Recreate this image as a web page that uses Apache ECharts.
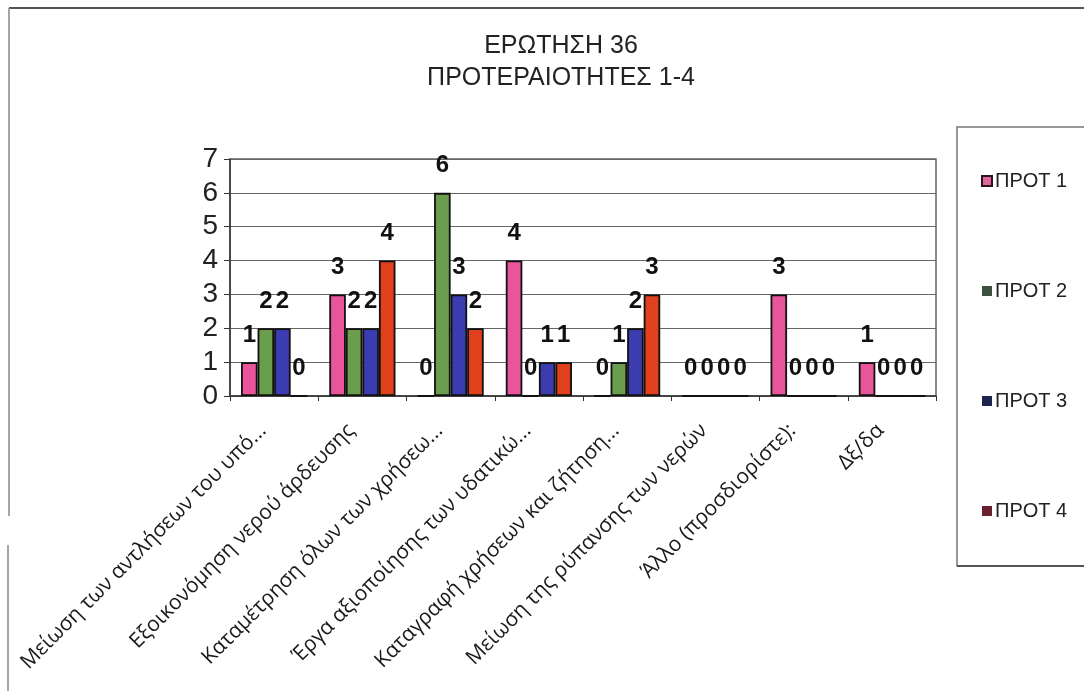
<!DOCTYPE html>
<html>
<head>
<meta charset="utf-8">
<script src="https://cdn.jsdelivr.net/npm/echarts@6/dist/echarts.min.js"></script>
<style>html,body{margin:0;padding:0;background:#fff}#c{width:1084px;height:691px}</style>
</head>
<body>
<div id="c"></div>
<script>
const titleLines = ['ΕΡΩΤΗΣΗ 36', 'ΠΡΟΤΕΡΑΙΟΤΗΤΕΣ 1-4'];
const categories = [
  'Μείωση των αντλήσεων του υπό...',
  'Εξοικονόμηση νερού άρδευσης',
  'Καταμέτρηση όλων των χρήσεω...',
  'Έργα αξιοποίησης των υδατικώ...',
  'Καταγραφή χρήσεων και ζήτηση...',
  'Μείωση της ρύπανσης των νερών',
  'Άλλο (προσδιορίστε):',
  'Δξ/δα'
];
const seriesNames = ['ΠΡΟΤ 1', 'ΠΡΟΤ 2', 'ΠΡΟΤ 3', 'ΠΡΟΤ 4'];
const prot1 = [1, 3, 0, 4, 0, 0, 3, 1];
const prot2 = [2, 2, 6, 0, 1, 0, 0, 0];
const prot3 = [2, 2, 3, 1, 2, 0, 0, 0];
const prot4 = [0, 4, 2, 1, 3, 0, 0, 0];
const yTicks = [0, 1, 2, 3, 4, 5, 6, 7];

const barColors = ['#E8559A', '#6A9E4E', '#3A3CB0', '#E0401C'];
const legendIcon = [
  {color: '#E0669A', borderColor: '#2a1420', borderWidth: 2},
  {color: '#3d4f3d', borderColor: '#3d4f3d', borderWidth: 0},
  {color: '#1f2350', borderColor: '#1f2350', borderWidth: 0},
  {color: '#6b2030', borderColor: '#6b2030', borderWidth: 0}
];
const values = [prot1, prot2, prot3, prot4];

const chart = echarts.init(document.getElementById('c'), null, {renderer: 'canvas'});
chart.setOption({
  backgroundColor: '#ffffff',
  animation: false,
  title: {
    text: titleLines.join('\n'),
    left: 556, top: 25, textAlign: 'center',
    textStyle: {fontFamily: 'Liberation Sans, Arial', fontSize: 25, fontWeight: 'normal', color: '#222', lineHeight: 32}
  },
  legend: {
    orient: 'vertical',
    left: 976, top: 166,
    itemGap: 90,
    itemWidth: 10, itemHeight: 10,
    icon: 'rect',
    textStyle: {fontFamily: 'Liberation Sans, Arial', fontSize: 20, color: '#222', lineHeight: 20, padding: [0,0,0,-2]},
    data: seriesNames.map((n, i) => ({name: n, itemStyle: legendIcon[i]}))
  },
  grid: {
    left: 230, right: 148, top: 159, bottom: 295,
    show: true, borderColor: '#666', borderWidth: 1.5, backgroundColor: 'transparent'
  },
  xAxis: {
    type: 'category',
    data: categories,
    boundaryGap: true,
    axisLine: {lineStyle: {color: '#333', width: 1.5}},
    axisTick: {show: true, length: 5, lineStyle: {color: '#333'}},
    axisLabel: {
      rotate: 45, interval: 0, margin: 20,
      padding: [0, 16, 0, 0],
      fontFamily: 'Open Sans', fontSize: 21, color: '#1a1a1a'
    }
  },
  yAxis: {
    type: 'value',
    min: 0, max: 7, interval: 1,
    axisLine: {show: true, lineStyle: {color: '#333', width: 1.5}},
    axisTick: {show: true, length: 6, lineStyle: {color: '#333'}},
    axisLabel: {fontFamily: 'Liberation Sans, Arial', fontSize: 28, color: '#222', margin: 12},
    splitLine: {show: true, lineStyle: {color: '#666', width: 1.2}}
  },
  series: seriesNames.map((n, i) => ({
    name: n,
    type: 'bar',
    data: values[i],
    barGap: '0%',
    barCategoryGap: '25%',
    itemStyle: {color: barColors[i], borderColor: '#111', borderWidth: 1.8},
    label: {
      show: true, position: 'top', distance: 15,
      fontFamily: 'Liberation Sans, Arial', fontSize: 24, fontWeight: 'bold', color: '#111'
    }
  })),
  graphic: [
    {type: 'line', shape: {x1: 9, y1: 8, x2: 1084, y2: 8}, style: {stroke: '#555', lineWidth: 2}},
    {type: 'line', shape: {x1: 9, y1: 8, x2: 9, y2: 516}, style: {stroke: '#888', lineWidth: 1.5}},
    {type: 'line', shape: {x1: 8, y1: 545, x2: 8, y2: 691}, style: {stroke: '#888', lineWidth: 1.5}},
    {type: 'rect', shape: {x: 957, y: 127, width: 140, height: 439}, style: {fill: 'none', stroke: '#777', lineWidth: 1.5}, z: -1},
    {type: 'line', shape: {x1: 957, y1: 566, x2: 1084, y2: 566}, style: {stroke: '#555', lineWidth: 2}}
  ]
});
</script>
</body>
</html>
